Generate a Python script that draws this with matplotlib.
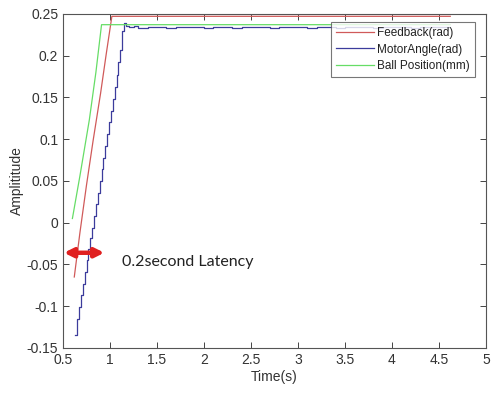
import matplotlib
matplotlib.use("Agg")
import matplotlib.pyplot as plt

plt.rcParams['font.family'] = ['Liberation Sans', 'DejaVu Sans']

# Feedback (rad) - red
fb_t = [0.62, 0.68, 0.75, 0.82, 0.90, 0.96, 1.02, 4.62]
fb_y = [-0.065, -0.012, 0.045, 0.098, 0.155, 0.202, 0.247, 0.247]

# Ball position (mm) - green
ball_t = [0.60, 0.68, 0.78, 0.85, 0.91, 4.62]
ball_y = [0.005, 0.056, 0.123, 0.180, 0.237, 0.237]

# Motor angle (rad) - blue, stepped rise then small ripple
motor_t = [0.63, 0.65, 0.67, 0.69, 0.71, 0.73, 0.75, 0.77, 0.79, 0.81,
           0.83, 0.85, 0.87, 0.89, 0.91, 0.93, 0.95, 0.97, 0.99, 1.01,
           1.03, 1.05, 1.07, 1.09, 1.11, 1.13, 1.15, 1.17, 1.20, 1.25,
           1.30, 1.40, 1.50, 1.60, 1.70, 1.80, 1.90, 2.00, 2.10, 2.20,
           2.30, 2.40, 2.50, 2.60, 2.70, 2.80, 2.90, 3.00, 3.10, 3.20,
           3.30, 3.40, 3.50, 3.60, 3.70, 3.80, 3.90, 4.00, 4.10, 4.20,
           4.30, 4.40, 4.50, 4.62]
motor_y = [-0.135, -0.115, -0.101, -0.087, -0.073, -0.059, -0.045, -0.031, -0.018, -0.006,
           0.008, 0.022, 0.036, 0.050, 0.064, 0.078, 0.092, 0.106, 0.120, 0.134,
           0.148, 0.162, 0.177, 0.192, 0.207, 0.230, 0.239, 0.236, 0.234, 0.235,
           0.2335, 0.234, 0.2345, 0.2335, 0.234, 0.2345, 0.234, 0.2335, 0.2345, 0.234,
           0.2335, 0.234, 0.2345, 0.234, 0.2335, 0.234, 0.2345, 0.234, 0.2335, 0.234,
           0.2345, 0.2335, 0.234, 0.2345, 0.234, 0.2335, 0.234, 0.2345, 0.234, 0.2335,
           0.234, 0.2345, 0.234, 0.234]

xticks = [0.5, 1, 1.5, 2, 2.5, 3, 3.5, 4, 4.5, 5]
xtick_labels = ['0.5', '1', '1.5', '2', '2.5', '3', '3.5', '4', '4.5', '5']
yticks = [-0.15, -0.1, -0.05, 0, 0.05, 0.1, 0.15, 0.2, 0.25]
ytick_labels = ['-0.15', '-0.1', '-0.05', '0', '0.05', '0.1', '0.15', '0.2', '0.25']

fig = plt.figure(figsize=(5, 3.95), dpi=100)
ax = fig.add_axes([0.126, 0.119, 0.846, 0.846])

ax.plot(fb_t, fb_y, color='#d05a5a', linewidth=0.9, label='Feedback(rad)')
ax.plot(motor_t, motor_y, color='#3c3c9c', linewidth=0.9, drawstyle='steps-post',
        label='MotorAngle(rad)')
ax.plot(ball_t, ball_y, color='#66dd66', linewidth=0.9, label='Ball Position(mm)')

# latency arrow and note
ax.annotate('', xy=(0.51, -0.036), xytext=(0.94, -0.036),
            arrowprops=dict(arrowstyle='<|-|>', color='#e02020', lw=3.2,
                            mutation_scale=13, shrinkA=0, shrinkB=0))
ax.text(1.13, -0.047, '0.2second Latency', fontsize=11.5, family=['Lato', 'DejaVu Sans'],
        color='#222222', va='center', ha='left')

ax.set_xlim(0.5, 5)
ax.set_ylim(-0.15, 0.25)
ax.set_xticks(xticks)
ax.set_xticklabels(xtick_labels)
ax.set_yticks(yticks)
ax.set_yticklabels(ytick_labels)
ax.tick_params(direction='in', top=True, right=True, length=4, width=0.7,
               colors='#444444', labelsize=10, labelcolor='#333333')
for s in ax.spines.values():
    s.set_color('#555555')
    s.set_linewidth(0.8)

ax.set_xlabel('Time(s)', fontsize=10, color='#333333', labelpad=2)
ax.set_ylabel('Amplititude', fontsize=10, color='#333333', labelpad=2)

leg = ax.legend(loc='upper right', bbox_to_anchor=(0.975, 0.975), fontsize=8.5,
                frameon=True, fancybox=False, borderpad=0.45, labelspacing=0.35,
                handlelength=3.2, handletextpad=0.3, borderaxespad=0)
leg.get_frame().set_edgecolor('#555555')
leg.get_frame().set_linewidth(0.8)
for t in leg.get_texts():
    t.set_color('#222222')

fig.savefig('out.png', dpi=100)
